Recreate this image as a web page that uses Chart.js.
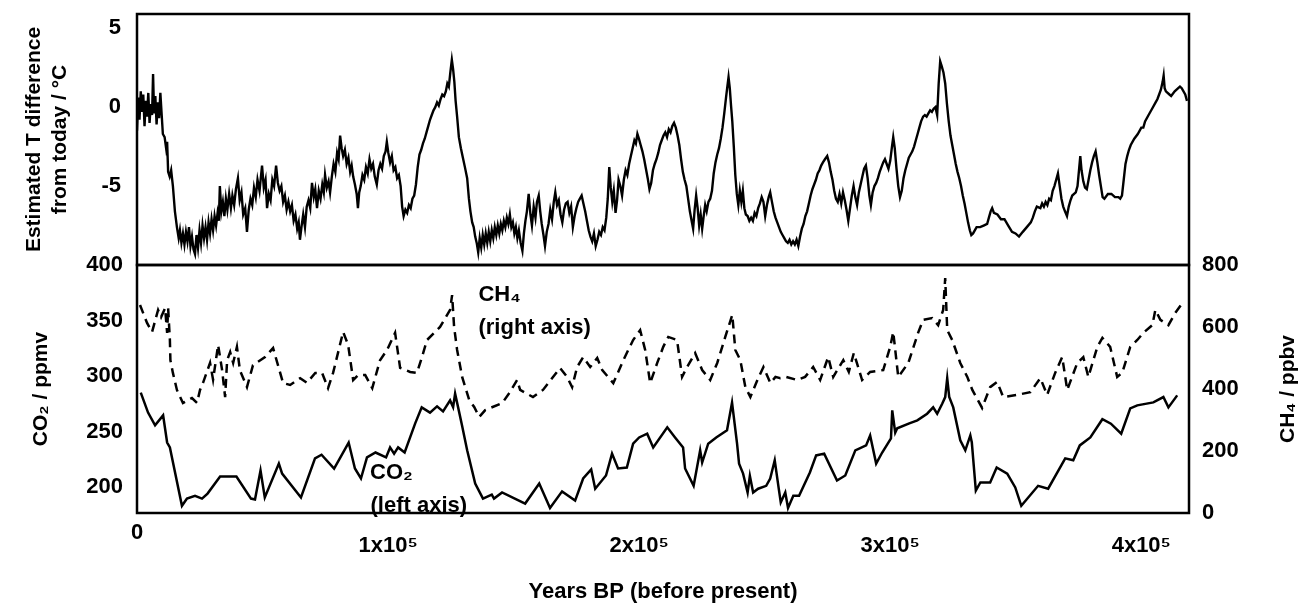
<!DOCTYPE html>
<html>
<head>
<meta charset="utf-8">
<script src="https://cdn.jsdelivr.net/npm/chart.js@4.4.0/dist/chart.umd.min.js"></script>
<style>
  body { margin: 0; background: #fff; }
  #wrap { position: relative; width: 1301px; height: 604px; }
  canvas { position: absolute; left: 0; }
  #tempchart { top: 0; }
  #gaschart { top: 250px; }
</style>
</head>
<body>
<div id="wrap">
  <canvas id="gaschart" width="1301" height="354"></canvas>
  <canvas id="tempchart" width="1301" height="280"></canvas>
</div>
<script>
// [years BP, value]
const tempSeries = [
  [0,-1.5],[500,0.6],[1000,-0.8],[1500,1.0],[2000,-0.3],[2500,0.8],[3000,-1.2],[3500,0.4],[4000,-0.6],[4500,0.9],
  [5000,-1.0],[5500,0.2],[6000,-0.5],[6400,2.1],[6800,-0.4],[7300,0.7],[7800,-1.1],[8300,0.3],[8800,-0.7],[9300,0.9],
  [9800,-0.4],[10300,-1.7],[11000,-1.9],[11600,-2.6],[12000,-2.2],[12400,-4.1],[13000,-4.4],[13600,-4.0],[14300,-5.0],[15100,-6.6],
  [15900,-7.6],[16600,-8.3],[17100,-7.8],[17700,-8.6],[18300,-8.0],[18900,-8.7],[19500,-7.9],[20100,-8.5],[20700,-7.6],[21300,-8.8],
  [21900,-8.2],[22500,-9.0],[23100,-9.3],[23700,-8.1],[24300,-8.9],[24900,-7.8],[25500,-8.6],[26100,-7.5],[26700,-8.3],[27300,-7.6],
  [27900,-8.4],[28500,-7.3],[29100,-8.0],[29700,-7.1],[30300,-7.8],[30900,-6.9],[31500,-7.5],[32100,-6.7],[32600,-7.2],[33000,-5.0],
  [33600,-6.6],[34200,-6.0],[34800,-6.9],[35400,-5.8],[36000,-6.5],[36700,-5.5],[37400,-6.4],[38000,-5.6],[38700,-6.2],[39400,-5.2],
  [40200,-4.5],[40900,-5.9],[41600,-5.4],[42300,-6.8],[43100,-6.4],[43800,-7.9],[44500,-6.5],[45200,-5.8],[45900,-6.2],[46600,-5.1],
  [47300,-5.7],[48000,-4.6],[48800,-5.3],[49800,-3.7],[50500,-5.1],[51200,-4.6],[51800,-6.4],[52500,-5.5],[53200,-5.9],[53900,-4.6],
  [54600,-5.0],[55400,-3.7],[56100,-4.8],[56800,-5.3],[57500,-5.0],[58200,-6.0],[58900,-5.6],[59600,-6.5],[60300,-6.0],[61000,-6.6],
  [61700,-6.2],[62400,-7.2],[63100,-6.8],[63800,-7.7],[64400,-7.3],[64900,-8.4],[65500,-7.6],[66200,-6.8],[66900,-7.6],[67600,-6.3],
  [68300,-5.9],[69000,-6.4],[69700,-4.8],[70400,-5.7],[71000,-5.2],[71700,-6.4],[72400,-5.3],[73100,-5.8],[73800,-4.9],[74400,-5.4],
  [74900,-4.3],[75600,-5.1],[76300,-4.7],[76900,-5.4],[77600,-4.4],[78300,-3.6],[79000,-4.1],[79700,-2.9],[80300,-3.3],[80900,-1.8],
  [81500,-2.6],[82100,-3.1],[82800,-2.7],[83500,-3.6],[84200,-3.2],[84900,-4.1],[85500,-3.7],[86100,-4.4],[86800,-4.9],[87500,-5.5],
  [88000,-6.4],[88500,-5.4],[89100,-5.0],[89800,-4.3],[90500,-4.6],[91200,-3.8],[91900,-4.2],[92600,-3.3],[93300,-3.9],[94000,-3.6],
  [94700,-4.4],[95500,-4.9],[96200,-4.0],[96900,-3.6],[97600,-3.9],[98300,-3.1],[99000,-2.8],[99500,-2.2],[100100,-2.9],[100800,-3.5],
  [101500,-3.1],[102200,-4.0],[102900,-3.8],[103600,-4.5],[104300,-4.3],[105000,-5.0],[105600,-6.3],[106200,-6.9],[106900,-6.5],[107600,-6.7],
  [108300,-6.2],[109000,-6.4],[109700,-5.8],[110400,-5.6],[111100,-4.9],[111800,-3.8],[112500,-3.0],[113200,-2.7],[113900,-2.3],[114600,-2.0],
  [115300,-1.6],[116000,-1.2],[116700,-0.8],[117400,-0.5],[118100,-0.2],[118800,0.0],[119500,0.3],[120200,0.1],[120900,0.5],[121600,0.8],
  [122300,0.7],[123000,1.0],[123600,1.5],[124200,1.3],[124800,2.2],[125400,3.0],[125900,2.4],[126400,1.6],[126900,0.4],[127500,-0.6],
  [128200,-1.9],[129000,-2.6],[129800,-3.2],[130600,-3.8],[131500,-4.5],[132200,-5.8],[132800,-6.6],[133500,-7.3],[134100,-7.6],[134700,-8.2],
  [135300,-8.6],[135900,-9.2],[136500,-8.3],[137100,-8.9],[137700,-8.1],[138300,-8.7],[138900,-8.0],[139500,-8.6],[140100,-7.9],[140700,-8.5],
  [141300,-7.8],[141900,-8.3],[142500,-7.6],[143100,-8.1],[143700,-7.5],[144300,-8.0],[144900,-7.4],[145500,-7.8],[146100,-7.2],[146700,-7.6],
  [147300,-7.0],[147900,-7.4],[148500,-6.8],[149100,-7.6],[149700,-7.3],[150300,-8.0],[150900,-7.6],[151500,-8.3],[152100,-7.8],[152800,-8.6],
  [153500,-9.1],[154100,-8.0],[154700,-7.2],[155300,-6.6],[156000,-5.5],[156700,-6.8],[157300,-7.5],[158000,-6.3],[158700,-7.0],[159300,-6.0],
  [160000,-5.6],[160600,-6.6],[161200,-7.4],[161900,-8.1],[162500,-8.8],[163200,-7.9],[163900,-7.4],[164600,-6.5],[165300,-7.1],[166000,-6.0],
  [166600,-5.4],[167300,-6.2],[168000,-5.9],[168700,-6.8],[169400,-7.3],[170100,-6.5],[170800,-6.1],[171500,-6.0],[172200,-6.7],[172900,-6.3],
  [173600,-7.6],[174300,-6.9],[175000,-6.4],[175700,-6.0],[176400,-5.8],[177100,-5.6],[177800,-6.1],[178500,-6.6],[179200,-7.2],[179900,-7.8],
  [180600,-8.2],[181300,-8.5],[182000,-8.0],[182700,-8.8],[183400,-8.4],[184100,-7.9],[184800,-8.1],[185500,-7.6],[186200,-7.8],[186900,-7.0],
  [187500,-5.8],[188100,-3.8],[188700,-5.1],[189300,-6.0],[189900,-5.3],[190600,-6.7],[191200,-5.9],[191800,-4.6],[192500,-5.0],[193200,-5.6],
  [193900,-4.6],[194600,-4.0],[195300,-4.3],[196000,-3.6],[196700,-3.1],[197400,-2.6],[198100,-2.1],[198700,-2.3],[199300,-1.7],[199900,-2.0],
  [200600,-2.4],[201300,-2.8],[202000,-3.3],[202700,-3.9],[203400,-4.5],[204100,-5.2],[204800,-4.8],[205500,-4.0],[206200,-3.6],[206900,-3.3],
  [207600,-2.9],[208300,-2.4],[209000,-2.1],[209700,-1.8],[210400,-1.6],[211100,-1.9],[211800,-1.4],[212500,-1.6],[213200,-1.2],[213900,-1.0],
  [214600,-1.3],[215300,-1.8],[216000,-2.4],[216700,-3.3],[217400,-4.1],[218100,-4.6],[218800,-5.0],[219500,-5.8],[220200,-6.6],[220900,-7.2],
  [221500,-7.7],[222100,-6.5],[222700,-5.6],[223300,-6.4],[223900,-7.5],[224500,-6.8],[225100,-7.7],[225700,-6.9],[226300,-6.2],[226900,-6.6],
  [227600,-6.0],[228300,-5.8],[229000,-5.3],[229700,-4.2],[230400,-3.5],[231100,-3.0],[231800,-2.6],[232500,-2.0],[233200,-1.3],[233900,-0.4],
  [234600,0.6],[235200,1.4],[235600,1.9],[236100,1.2],[236600,0.1],[237100,-0.9],[237700,-2.5],[238300,-4.3],[238900,-5.5],[239500,-6.2],
  [240100,-5.3],[240700,-6.0],[241300,-5.3],[241900,-6.4],[242500,-6.8],[243200,-6.9],[243900,-7.2],[244600,-7.0],[245300,-7.2],[246000,-6.7],
  [246700,-6.9],[247400,-6.4],[248100,-6.1],[248800,-5.7],[249500,-6.0],[250200,-6.9],[250900,-6.2],[251600,-5.7],[252200,-5.4],[252900,-6.0],
  [253600,-6.6],[254300,-7.0],[255000,-7.3],[255700,-7.6],[256400,-7.9],[257100,-8.1],[257800,-8.3],[258500,-8.5],[259200,-8.6],[259900,-8.4],
  [260600,-8.7],[261300,-8.5],[262000,-8.7],[262700,-8.4],[263400,-8.8],[264100,-8.2],[264800,-7.7],[265500,-7.4],[266200,-6.9],[266900,-6.6],
  [267600,-6.1],[268300,-5.6],[269000,-5.2],[269700,-4.9],[270400,-4.6],[271100,-4.2],[271800,-4.0],[272500,-3.7],[273200,-3.5],[274000,-3.3],
  [274900,-3.1],[275600,-3.5],[276300,-4.1],[277000,-4.6],[277700,-5.3],[278400,-5.8],[279100,-6.0],[279800,-5.5],[280500,-6.1],[281200,-5.4],
  [281900,-5.9],[282600,-6.5],[283300,-7.2],[284000,-6.4],[284700,-5.6],[285400,-5.0],[286100,-5.7],[286800,-6.2],[287500,-5.4],[288200,-4.9],
  [288900,-4.4],[289600,-3.9],[290300,-3.7],[291000,-4.5],[291700,-5.6],[292300,-6.2],[293000,-5.4],[293700,-5.0],[294400,-4.8],[295100,-4.5],
  [295800,-4.1],[296500,-3.8],[297200,-3.5],[297900,-3.3],[298600,-3.6],[299300,-3.9],[300000,-3.4],[300700,-2.5],[301200,-1.9],[301800,-2.6],
  [302500,-3.9],[303200,-5.0],[303900,-5.7],[304600,-5.3],[305300,-4.5],[306000,-4.0],[306700,-3.6],[307400,-3.2],[308100,-3.0],[308800,-2.8],
  [309500,-2.5],[310200,-2.1],[310900,-1.7],[311600,-1.3],[312300,-0.9],[313100,-0.6],[313800,-0.5],[314500,-0.6],[315200,-0.4],[315900,-0.2],
  [316600,-0.3],[317300,-0.1],[318000,0.0],[318700,-0.5],[319300,1.5],[319900,2.9],[320500,2.6],[321200,2.2],[321900,1.5],[322600,0.2],
  [323300,-0.9],[324000,-1.8],[324700,-2.4],[325400,-3.0],[326100,-3.6],[326800,-4.1],[327500,-4.5],[328200,-5.0],[328900,-5.6],[329600,-6.1],
  [330300,-6.7],[331000,-7.3],[331700,-7.8],[332300,-8.1],[333000,-8.0],[334400,-7.6],[335800,-7.6],[337200,-7.5],[338600,-7.4],[339300,-7.0],
  [340000,-6.6],[340600,-6.4],[341300,-6.7],[342700,-6.8],[344100,-7.1],[345500,-7.1],[347000,-7.5],[348500,-7.9],[349900,-8.0],[351300,-8.2],
  [352800,-7.9],[354400,-7.6],[356000,-7.3],[356800,-7.0],[357600,-6.6],[358400,-6.3],[359800,-6.4],[360500,-6.1],[361200,-6.3],[361900,-6.0],
  [362600,-6.2],[363300,-5.8],[364000,-5.9],[364700,-5.3],[365400,-5.0],[366100,-4.6],[366800,-4.2],[367500,-5.0],[368200,-5.8],[368900,-6.3],
  [369600,-6.6],[370400,-6.9],[371100,-6.3],[371800,-5.9],[372500,-5.6],[373900,-5.4],[374600,-5.0],[375300,-3.8],[375700,-3.1],[376200,-4.0],
  [376900,-4.7],[377600,-5.1],[378300,-5.2],[379000,-4.6],[379700,-4.0],[380400,-3.5],[381100,-3.1],[381800,-2.8],[382500,-3.5],[383200,-4.3],
  [383900,-5.0],[384600,-5.7],[385300,-5.8],[386700,-5.5],[388100,-5.5],[389500,-5.7],[390900,-5.7],[391600,-5.8],[392300,-5.6],[393000,-4.6],
  [393700,-3.6],[394400,-3.1],[395100,-2.7],[395800,-2.4],[397200,-2.0],[398600,-1.7],[400000,-1.3],[400800,-1.3],[401500,-0.9],[402900,-0.5],
  [404300,-0.1],[405700,0.3],[406400,0.5],[407100,0.8],[407800,1.1],[408500,1.6],[408900,2.0],[409300,1.2],[409800,1.0],[411200,0.8],
  [411900,0.7],[413300,1.0],[414700,1.2],[415400,1.3],[416100,1.2],[417500,0.8],[418200,0.4]
];

const co2Series = [
  [1500,285],[4400,267],[7200,255.5],[10400,264.5],[12000,240],[13100,235.6],[17900,183],[19900,189.5],[23100,192],[25900,189.5],
  [28100,194],[33100,209.4],[39600,209.4],[45400,189.5],[47000,188.6],[49200,214.8],[50900,190.5],[56500,221],[57800,212],[65300,190.5],
  [70900,225.7],[73500,229],[78500,216.6],[84300,240],[86800,216.6],[89200,207.6],[91600,226.6],[95000,231],[99200,226.6],[100800,235.6],
  [102400,230],[104000,235.6],[106600,231],[110800,257.3],[113400,271.7],[116700,267],[119500,272.6],[121900,268],[124700,278],[125900,272],
  [126700,284],[127900,271.7],[129500,255],[131500,233],[134700,203],[137800,189.5],[141300,193],[142200,189.5],[145400,195],[154600,185],
  [160200,203],[164500,181],[169300,196],[174500,187.7],[177700,207.6],[180900,215.7],[182500,198.4],[186800,210.3],[189200,230],[191600,216.6],
  [195100,217.5],[197600,239],[200000,244.6],[203200,248],[205600,235.6],[211200,253.7],[214300,244.6],[217500,235.6],[218300,216.6],[221700,201],
  [224300,233],[225100,222],[227500,239],[230700,244.6],[235000,251],[237000,276],[239000,239],[239800,221],[241400,212],[243200,195],
  [244100,210],[245400,195],[247400,198.4],[250600,201],[252200,207.6],[254000,224],[255600,198.4],[256400,186],[258200,195],[259300,181],
  [261400,192],[263700,192],[268000,213],[270500,228.4],[273700,230],[278800,205.8],[282100,210.3],[286100,233],[290400,237.4],[292000,246.4],
  [294400,221],[296800,231],[300300,243.7],[300800,269],[302000,249],[302800,252.8],[307600,257.3],[310800,260],[314700,266],[317100,271.7],
  [318700,266],[320700,275],[321900,281],[322700,298],[323500,281],[325100,271.7],[327900,242],[329900,233],[331900,246.4],[332500,240],
  [334100,196.7],[335900,204],[339800,204],[342400,217.5],[346600,212],[349800,199.5],[352200,183],[358900,201],[362900,198.4],[369700,225.7],
  [372900,224],[375500,237.4],[379700,244.6],[384500,261],[387900,257],[392000,248],[395600,270.8],[398400,273.5],[404800,276.2],[408800,281],
  [410800,271.7],[414300,282.5]
];

const ch4Series = [
  [1200,671],[4000,613],[6000,584],[8400,655],[9600,632],[11200,661],[12000,581],[12400,661],[13100,558],[13300,493],
  [14300,452],[15900,397],[18300,355],[21900,371],[23900,355],[25100,397],[26300,420],[29100,484],[30300,430],[32300,542],
  [33900,461],[35100,374],[35900,493],[37100,519],[38300,484],[39800,536],[41000,460],[43800,406],[46200,477],[51000,503],
  [54200,532],[58200,419],[61000,413],[65000,435],[67700,420],[71000,452],[73700,452],[76100,403],[78100,452],[82100,584],
  [84100,542],[86100,429],[88100,445],[90900,445],[93700,403],[96800,493],[99600,526],[102800,581],[104800,468],[108800,455],
  [111500,452],[113500,503],[115500,558],[120700,600],[124700,655],[125500,703],[126300,600],[127500,526],[129500,439],[132300,365],
  [134300,342],[136300,310],[138700,332],[145500,355],[148300,387],[151400,429],[152600,397],[157700,374],[161700,397],[168500,468],
  [171300,439],[173300,406],[175300,471],[177700,503],[180500,471],[183300,500],[185300,461],[189700,419],[193700,493],[197600,558],
  [200400,590],[202400,526],[204400,419],[207200,484],[209600,536],[211600,568],[215100,558],[217100,439],[219100,471],[222300,516],
  [225100,461],[228300,429],[231100,484],[234300,568],[237100,639],[238300,526],[240300,493],[242300,406],[244300,374],[247100,429],
  [249500,471],[252300,419],[254300,439],[256200,435],[258600,439],[262900,429],[266100,439],[269300,471],[272100,429],[275300,503],
  [277300,439],[281300,493],[283500,455],[285500,516],[288800,429],[292000,455],[297200,461],[300000,536],[301200,584],[303200,439],
  [307200,484],[311100,581],[313100,623],[316700,629],[319100,606],[321100,655],[321900,758],[322700,590],[324700,558],[327900,484],
  [330700,439],[332700,397],[336600,339],[339800,406],[342600,423],[345000,374],[350600,381],[355800,390],[359800,435],[362500,381],
  [365700,452],[368500,503],[370500,397],[374500,484],[376900,503],[378900,439],[382500,536],[384500,565],[387600,536],[390400,439],
  [392400,452],[395600,536],[398400,558],[400800,581],[404400,606],[405600,655],[407600,623],[410800,606],[413500,645],[416700,681]
];

const yearTicks = [0, 100000, 200000, 300000, 400000];
const tempTicks = [5, 0, -5];
const co2Ticks = [200, 250, 300, 350, 400];
const ch4Ticks = [0, 200, 400, 600, 800];

const FONT = "'Liberation Sans', Arial, sans-serif";
Chart.defaults.font.family = FONT;
Chart.defaults.color = '#000';

const toXY = s => s.map(p => ({ x: p[0], y: p[1] }));
const tickFont = { size: 22, weight: 'bold' };

// fixed axis width, and no extra room for the end labels
const fixWidth = w => s => { s.width = w; s.paddingTop = 0; s.paddingBottom = 0; };

// box round the plot area, like the original figure
const frame = {
  id: 'frame',
  afterDatasetsDraw(chart) {
    const { ctx, chartArea: a } = chart;
    ctx.save();
    ctx.strokeStyle = '#000';
    ctx.lineWidth = 2.5;
    ctx.strokeRect(a.left, a.top, a.right - a.left, a.bottom - a.top);
    ctx.restore();
  }
};

new Chart(document.getElementById('tempchart'), {
  type: 'line',
  data: {
    datasets: [{
      data: toXY(tempSeries),
      borderColor: '#000',
      borderWidth: 2.4,
      pointRadius: 0,
      tension: 0
    }]
  },
  options: {
    responsive: false,
    animation: false,
    devicePixelRatio: 1,
    layout: { padding: { top: 14, bottom: 15, left: 0, right: 112 } },
    plugins: { legend: { display: false }, tooltip: { enabled: false } },
    scales: {
      x: { type: 'linear', min: 0, max: 419000, display: false },
      y: {
        min: -10, max: 5.9,
        afterBuildTicks: s => { s.ticks = tempTicks.map(v => ({ value: v })); },
        afterFit: fixWidth(137),
        grid: { display: false, drawTicks: false },
        border: { display: false },
        ticks: { padding: 16, font: tickFont, callback: v => String(v) },
        title: {
          display: true,
          text: ['Estimated T difference', 'from today / °C'],
          font: { size: 21, weight: 'bold', lineHeight: 1.2 },
          padding: { top: 22 }
        }
      }
    }
  },
  plugins: [frame]
});

const gasLabels = {
  id: 'gasLabels',
  afterDraw(chart) {
    const { ctx, scales } = chart;
    const x = scales.x, co2 = scales.co2, ch4 = scales.ch4;
    ctx.save();
    ctx.fillStyle = '#000';
    ctx.font = 'bold 22px ' + FONT;
    ctx.textBaseline = 'middle';
    ctx.textAlign = 'left';
    ctx.fillText('CH₄', x.getPixelForValue(136000), ch4.getPixelForValue(703));
    ctx.fillText('(right axis)', x.getPixelForValue(136000), ch4.getPixelForValue(597));
    ctx.fillText('CO₂', x.getPixelForValue(92800), co2.getPixelForValue(213));
    ctx.fillText('(left axis)', x.getPixelForValue(93000), co2.getPixelForValue(183));
    // right axis title reads bottom to top
    ctx.font = 'bold 21px ' + FONT;
    ctx.textAlign = 'center';
    ctx.translate(1288, (ch4.top + ch4.bottom) / 2);
    ctx.rotate(-Math.PI / 2);
    ctx.fillText('CH₄ / ppbv', 0, 0);
    ctx.restore();
  }
};

new Chart(document.getElementById('gaschart'), {
  type: 'line',
  data: {
    datasets: [{
      label: 'CO2',
      data: toXY(co2Series),
      yAxisID: 'co2',
      borderColor: '#000',
      borderWidth: 2.5,
      pointRadius: 0,
      tension: 0
    }, {
      label: 'CH4',
      data: toXY(ch4Series),
      yAxisID: 'ch4',
      borderColor: '#000',
      borderWidth: 2.5,
      borderDash: [9, 6],
      pointRadius: 0,
      tension: 0
    }]
  },
  options: {
    responsive: false,
    animation: false,
    devicePixelRatio: 1,
    layout: { padding: { top: 15, bottom: 0, left: 0, right: 0 } },
    plugins: { legend: { display: false }, tooltip: { enabled: false } },
    scales: {
      x: {
        type: 'linear', min: 0, max: 419000,
        afterBuildTicks: s => { s.ticks = yearTicks.map(v => ({ value: v })); },
        afterFit: s => { s.height = 91; s.paddingLeft = 0; s.paddingRight = 0; },
        grid: { display: false, drawTicks: false },
        border: { display: false },
        ticks: {
          padding: 13, autoSkip: false, maxRotation: 0,
          font: { size: 22, weight: 'bold', lineHeight: 0.6 },
          callback: v => v === 0 ? '0' : ['', (v / 100000) + 'x10⁵']
        },
        title: {
          display: true,
          text: 'Years BP (before present)',
          font: { size: 22, weight: 'bold', lineHeight: 1 },
          padding: { top: 0, bottom: 1 }
        }
      },
      co2: {
        position: 'left',
        min: 176.5, max: 400,
        afterBuildTicks: s => { s.ticks = co2Ticks.map(v => ({ value: v })); },
        afterFit: fixWidth(137),
        grid: { display: false, drawTicks: false },
        border: { display: false },
        ticks: { padding: 14, font: tickFont },
        title: {
          display: true,
          text: 'CO₂ / ppmv',
          font: { size: 21, weight: 'bold', lineHeight: 1.2 },
          padding: { top: 29 }
        }
      },
      ch4: {
        position: 'right',
        min: 0, max: 800,
        afterBuildTicks: s => { s.ticks = ch4Ticks.map(v => ({ value: v })); },
        afterFit: fixWidth(112),
        grid: { display: false, drawTicks: false },
        border: { display: false },
        ticks: { padding: 13, font: tickFont }
      }
    }
  },
  plugins: [frame, gasLabels]
});
</script>
</body>
</html>
